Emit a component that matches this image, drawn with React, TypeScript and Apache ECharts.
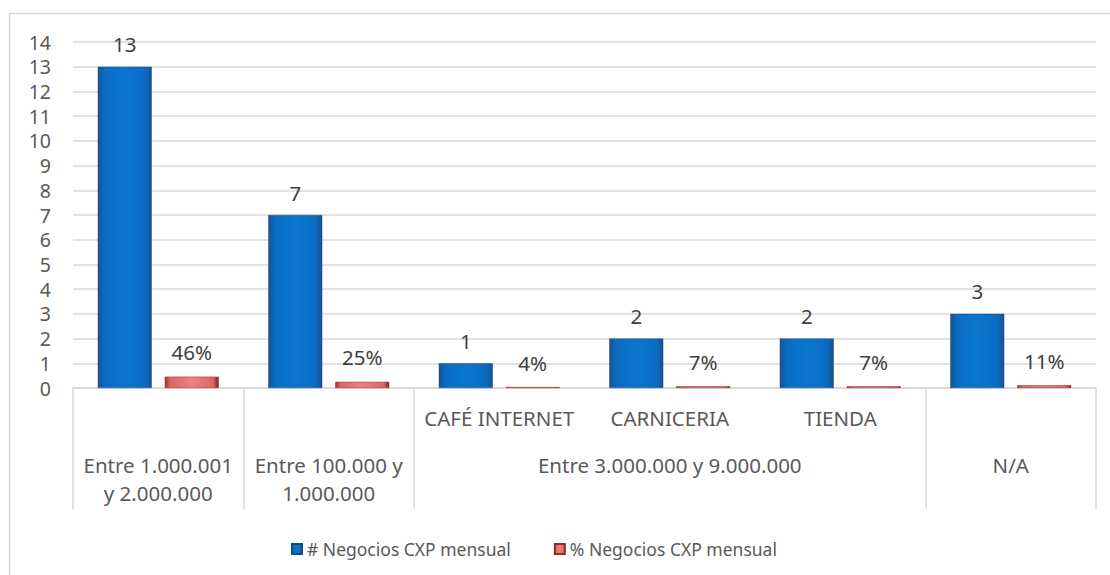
import React, { useEffect, useRef } from "react";
import * as echarts from "echarts";

const categories = ["", "", "CAFÉ INTERNET", "CARNICERIA", "TIENDA", ""];
const groupLabels = [
  "Entre 1.000.001\ny 2.000.000",
  "Entre 100.000 y\n1.000.000",
  "",
  "Entre 3.000.000 y 9.000.000",
  "",
  "N/A",
];
const groupStarts = [0, 1, 2, 5];
const seriesNames = ["# Negocios CXP mensual", "% Negocios CXP mensual"];
const countValues = [13, 7, 1, 2, 2, 3];
const pctValues = [0.46, 0.25, 0.04, 0.07, 0.07, 0.11];
const yMin = 0;
const yMax = 14;
const yStep = 1;

const FONT = "Noto Sans";
const TEXT = "#595959";
const LINE = "#d9d9d9";
const FS = 20.5;

export default function App() {
  const ref = useRef<HTMLDivElement>(null);
  useEffect(() => {
    document.body.style.margin = "0";
    const chart = echarts.init(ref.current!, undefined, { renderer: "svg" });
    const blue = new echarts.graphic.LinearGradient(0, 0, 1, 0, [
      { offset: 0, color: "#1a5290" },
      { offset: 0.12, color: "#0a6cc2" },
      { offset: 0.5, color: "#0a76cf" },
      { offset: 0.88, color: "#0a6cc2" },
      { offset: 1, color: "#1a5290" },
    ]);
    const red = new echarts.graphic.LinearGradient(0, 0, 1, 0, [
      { offset: 0, color: "#a8302e" },
      { offset: 0.1, color: "#e06663" },
      { offset: 0.5, color: "#ef807d" },
      { offset: 0.9, color: "#e06663" },
      { offset: 1, color: "#7a1f1e" },
    ]);
    chart.setOption({
      animation: false,
      textStyle: { fontFamily: FONT },
      grid: { left: 73, right: 14, top: 42, bottom: 187, containLabel: false },
      graphic: [
        {
          type: "rect",
          shape: { x: 9.5, y: 13.5, width: 1110, height: 580 },
          style: { fill: "none", stroke: LINE, lineWidth: 1.5 },
          silent: true,
        },
      ],
      legend: {
        left: 286,
        top: 535,
        itemWidth: 10,
        itemHeight: 10,
        itemGap: 43,
        icon: "rect",
        textStyle: { fontSize: 17.5, color: TEXT, fontFamily: FONT },
        data: seriesNames,
      },
      xAxis: [
        {
          type: "category",
          data: categories,
          position: "bottom",
          axisLine: { show: true, lineStyle: { color: LINE, width: 1.5 } },
          axisTick: {
            show: true,
            length: 121,
            interval: (i: number) => groupStarts.includes(i),
            lineStyle: { color: LINE, width: 1.5 },
          },
          axisLabel: {
            interval: 0,
            margin: 16,
            fontSize: FS,
            lineHeight: 28,
            color: TEXT,
            fontFamily: FONT,
          },
        },
        {
          type: "category",
          data: groupLabels,
          position: "bottom",
          axisLine: { show: false },
          axisTick: { show: false },
          splitLine: { show: false },
          axisLabel: {
            interval: 0,
            margin: 63,
            fontSize: FS,
            lineHeight: 28,
            color: TEXT,
            fontFamily: FONT,
          },
        },
      ],
      yAxis: {
        type: "value",
        min: yMin,
        max: yMax,
        interval: yStep,
        axisLine: { show: false },
        axisTick: { show: false },
        splitLine: { lineStyle: { color: LINE, width: 1.5 } },
        axisLabel: {
          margin: 22,
          fontSize: 19.5,
          lineHeight: 20,
          color: TEXT,
          fontFamily: FONT,
        },
      },
      series: [
        {
          name: seriesNames[0],
          type: "bar",
          data: countValues,
          barWidth: 54,
          barGap: "24%",
          itemStyle: { color: blue, borderColor: "#174a80", borderWidth: 0.5 },
          label: {
            show: true,
            position: "top",
            distance: 12,
            fontSize: FS,
            color: "#404040",
            fontFamily: FONT,
          },
        },
        {
          name: seriesNames[1],
          type: "bar",
          data: pctValues,
          barWidth: 54,
          barGap: "24%",
          itemStyle: { color: red, borderColor: "#8e2a28", borderWidth: 0.5 },
          label: {
            show: true,
            position: "top",
            distance: 14,
            fontSize: FS,
            color: "#404040",
            fontFamily: FONT,
            formatter: (p: any) => Math.round(p.value * 100) + "%",
          },
        },
      ],
    });
    return () => chart.dispose();
  }, []);
  return <div ref={ref} style={{ width: 1110, height: 575 }} />;
}
